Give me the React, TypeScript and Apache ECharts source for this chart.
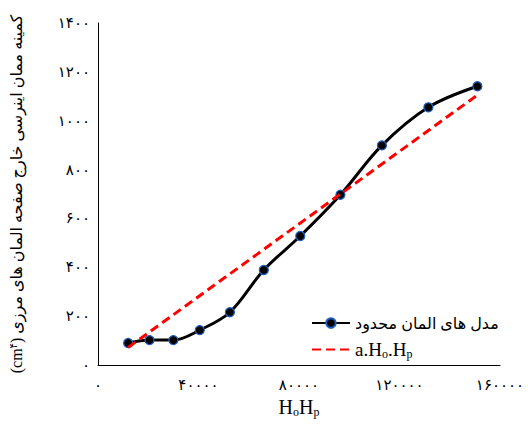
import React, { useEffect, useRef } from "react";
import * as echarts from "echarts";

const femName = "مدل های المان محدود";
const fitName = "a.Ho.Hp";
const xTickLabels = ["۰", "۴۰۰۰۰", "۸۰۰۰۰", "۱۲۰۰۰۰", "۱۶۰۰۰۰"];
const yTickLabels = ["۰", "۲۰۰", "۴۰۰", "۶۰۰", "۸۰۰", "۱۰۰۰", "۱۲۰۰", "۱۴۰۰"];
const femX = [12000, 20500, 30000, 40500, 52500, 66000, 80500, 96500, 113000, 131500, 151000];
const femY = [90, 102, 102, 143, 216, 389, 528, 697, 899, 1055, 1141];
const fitX = [12000, 151000];
const fitY = [72, 1105];

const serif = "'Liberation Serif', 'DejaVu Sans', serif";

export default function App() {
  const ref = useRef<HTMLDivElement>(null);
  useEffect(() => {
    if (!ref.current) return;
    const chart = echarts.init(ref.current, undefined, { renderer: "svg" });
    chart.setOption({
      animation: false,
      backgroundColor: "#ffffff",
      grid: { left: 96, right: 28, top: 23, bottom: 61, containLabel: false },
      xAxis: {
        type: "value",
        min: 0,
        max: 160000,
        interval: 40000,
        name: "H{sub|o}H{sub|p}",
        nameLocation: "middle",
        nameGap: 28,
        nameTextStyle: {
          fontFamily: serif,
          fontSize: 20,
          color: "#000",
          rich: {
            sub: { fontFamily: serif, fontSize: 12, color: "#000", verticalAlign: "bottom", padding: [10, 0, 0, 0] },
          },
        },
        axisLine: { show: true, lineStyle: { color: "#000", width: 1 } },
        axisTick: { show: false },
        splitLine: { show: false },
        axisLabel: {
          margin: 12,
          fontFamily: serif,
          fontSize: 15,
          color: "#000",
          formatter: (v: number) => xTickLabels[Math.round(v / 40000)] ?? "",
        },
      },
      yAxis: {
        type: "value",
        min: 0,
        max: 1400,
        interval: 200,
        name: "{t|(cm}{sup|۴}{t|) کمینه ممان اینرسی خارج صفحه المان های مرزی}",
        nameLocation: "middle",
        nameRotate: 90,
        nameGap: 73,
        nameTextStyle: {
          fontFamily: serif,
          fontSize: 16,
          color: "#000",
          rich: {
            t: { fontFamily: serif, fontSize: 16, color: "#000" },
            sup: { fontFamily: serif, fontSize: 10, color: "#000", verticalAlign: "top", padding: [0, 0, 7, 0] },
          },
        },
        axisLine: { show: true, lineStyle: { color: "#000", width: 1 } },
        axisTick: { show: false },
        splitLine: { show: false },
        axisLabel: {
          margin: 8,
          fontFamily: serif,
          fontSize: 15,
          color: "#000",
          formatter: (v: number) => yTickLabels[Math.round(v / 200)] ?? "",
        },
      },
      legend: {
        orient: "vertical",
        left: 306,
        top: 310,
        itemWidth: 38,
        itemHeight: 12,
        itemGap: 9,
        data: [femName, { name: fitName, itemStyle: { opacity: 0 } }],
        formatter: (name: string) =>
          name === femName ? "{fa|" + femName + "}" : "{en|a.H}{sub|o}{en|.H}{sub|p}",
        textStyle: {
          color: "#000",
          rich: {
            fa: { fontFamily: serif, fontSize: 16, color: "#000" },
            en: { fontFamily: serif, fontSize: 19, color: "#000" },
            sub: { fontFamily: serif, fontSize: 12, color: "#000", verticalAlign: "bottom", padding: [9, 0, 0, 0] },
          },
        },
      },
      series: [
        {
          name: femName,
          type: "line",
          data: femX.map((x, i) => [x, femY[i]]),
          smooth: 0.35,
          symbol: "circle",
          symbolSize: 9,
          lineStyle: { color: "#000", width: 3 },
          itemStyle: { color: "#000", borderColor: "#1f5fbf", borderWidth: 1.2 },
          z: 2,
        },
        {
          name: fitName,
          type: "line",
          data: fitX.map((x, i) => [x, fitY[i]]),
          symbol: "none",
          lineStyle: { color: "#ff0000", width: 3, type: [9, 5] },
          itemStyle: { color: "#ff0000" },
          z: 3,
        },
      ],
    });
    return () => chart.dispose();
  }, []);
  return <div ref={ref} style={{ width: 528, height: 426, position: "absolute", left: 0, top: 0 }} />;
}
